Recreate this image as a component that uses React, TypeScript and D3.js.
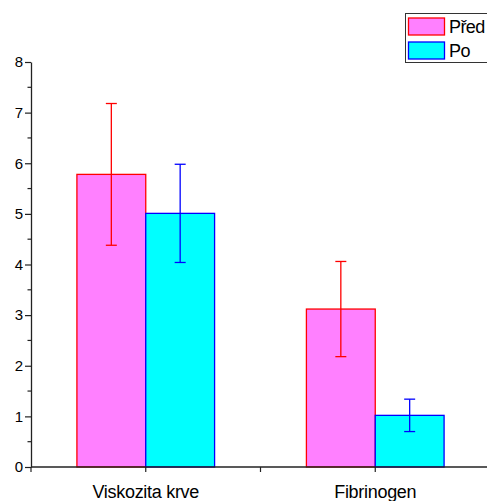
import React, { useEffect, useRef } from 'react';
import * as d3 from 'd3';

const categories = ['Viskozita krve', 'Fibrinogen'];
const seriesNames = ['Před', 'Po'];
const predValues = [5.78, 3.12];
const predErrors = [1.4, 0.94];
const poValues = [5.01, 1.02];
const poErrors = [0.97, 0.32];
const yTicks = [0, 1, 2, 3, 4, 5, 6, 7, 8];

const fills = ['#ff80ff', '#00ffff'];
const strokes = ['#ff0000', '#0000ff'];

const App = () => {
  const svgRef = useRef<SVGSVGElement>(null);

  useEffect(() => {
    const width = 487;
    const height = 501;
    const svg = d3.select(svgRef.current);
    svg.selectAll('*').remove();
    svg.attr('width', width).attr('height', height);

    const font = 'Arial, "Liberation Sans", sans-serif';

    const x0 = d3.scaleBand().domain(categories).range([31, 490]).padding(0);
    const x1 = d3.scaleBand().domain(seriesNames).range([0, x0.bandwidth()])
      .paddingInner(0).paddingOuter(0.667);
    const y = d3.scaleLinear().domain([0, 8]).range([467, 62]);

    const rows = categories.map((c, i) => [
      { cat: c, s: 0, v: predValues[i], e: predErrors[i] },
      { cat: c, s: 1, v: poValues[i], e: poErrors[i] }
    ]).flat();

    // bars
    svg.append('g').selectAll('rect')
      .data(rows)
      .enter()
      .append('rect')
      .attr('x', d => x0(d.cat)! + x1(seriesNames[d.s])!)
      .attr('y', d => y(d.v))
      .attr('width', x1.bandwidth())
      .attr('height', d => y(0) - y(d.v))
      .attr('fill', d => fills[d.s])
      .attr('stroke', d => strokes[d.s])
      .attr('stroke-width', 1.3);

    // error bars
    const eb = svg.append('g');
    rows.forEach(d => {
      const cx = x0(d.cat)! + x1(seriesNames[d.s])! + x1.bandwidth() / 2;
      const g = eb.append('g').attr('stroke', strokes[d.s]).attr('stroke-width', 1.3);
      g.append('line').attr('x1', cx).attr('x2', cx).attr('y1', y(d.v + d.e)).attr('y2', y(d.v - d.e));
      [d.v + d.e, d.v - d.e].forEach(v => {
        g.append('line').attr('x1', cx - 5.5).attr('x2', cx + 5.5).attr('y1', y(v)).attr('y2', y(v));
      });
    });

    // y axis
    const yAxis = svg.append('g')
      .attr('transform', 'translate(31,0)')
      .call(d3.axisLeft(y).tickValues(yTicks).tickSize(6).tickSizeOuter(0).tickFormat(d3.format('d')));
    yAxis.select('.domain').attr('stroke', '#222').attr('stroke-width', 1.3);
    yAxis.selectAll('.tick line').attr('stroke', '#222').attr('stroke-width', 1.2);
    yAxis.selectAll('.tick text')
      .attr('x', -8)
      .attr('fill', '#000')
      .style('font-family', font)
      .style('font-size', '15px');
    yAxis.append('g').selectAll('line')
      .data(d3.range(0.5, 8, 1))
      .enter()
      .append('line')
      .attr('x1', -3.5).attr('x2', 0)
      .attr('y1', d => y(d)).attr('y2', d => y(d))
      .attr('stroke', '#222').attr('stroke-width', 1.2);

    // x axis
    const xAxis = svg.append('g').attr('transform', `translate(0,${y(0)})`);
    xAxis.append('line')
      .attr('x1', 31).attr('x2', 490).attr('y1', 0).attr('y2', 0)
      .attr('stroke', '#222').attr('stroke-width', 1.3);
    const xTickPos = [31, ...categories.map(c => x0(c)! + x0.bandwidth() / 2), x0(categories[1])!];
    xAxis.selectAll('line.tk')
      .data(xTickPos)
      .enter()
      .append('line')
      .attr('class', 'tk')
      .attr('x1', d => d).attr('x2', d => d).attr('y1', 0).attr('y2', 5)
      .attr('stroke', '#222').attr('stroke-width', 1.2);
    xAxis.selectAll('text')
      .data(categories)
      .enter()
      .append('text')
      .attr('x', d => x0(d)! + x0.bandwidth() / 2)
      .attr('y', 30.5)
      .attr('text-anchor', 'middle')
      .style('font-family', font)
      .style('font-size', '18px')
      .style('letter-spacing', '-0.3px')
      .text(d => d);

    // legend
    const legend = svg.append('g');
    legend.append('rect')
      .attr('x', 405.5).attr('y', 13.5).attr('width', 90).attr('height', 49)
      .attr('fill', 'white').attr('stroke', '#333').attr('stroke-width', 1);
    seriesNames.forEach((name, i) => {
      const item = legend.append('g').attr('transform', `translate(0, ${i * 24})`);
      item.append('rect')
        .attr('x', 408.5).attr('y', 18).attr('width', 36).attr('height', 17)
        .attr('fill', fills[i]).attr('stroke', strokes[i]).attr('stroke-width', 1.3);
      item.append('text')
        .attr('x', 449).attr('y', 33)
        .style('font-family', font)
        .style('font-size', '18px')
        .style('letter-spacing', '-0.6px')
        .text(name);
    });
  }, []);

  return (
    <div className="chart-container">
      <svg ref={svgRef} style={{ position: 'absolute', left: 0, top: 0 }}></svg>
    </div>
  );
};

export default App;
